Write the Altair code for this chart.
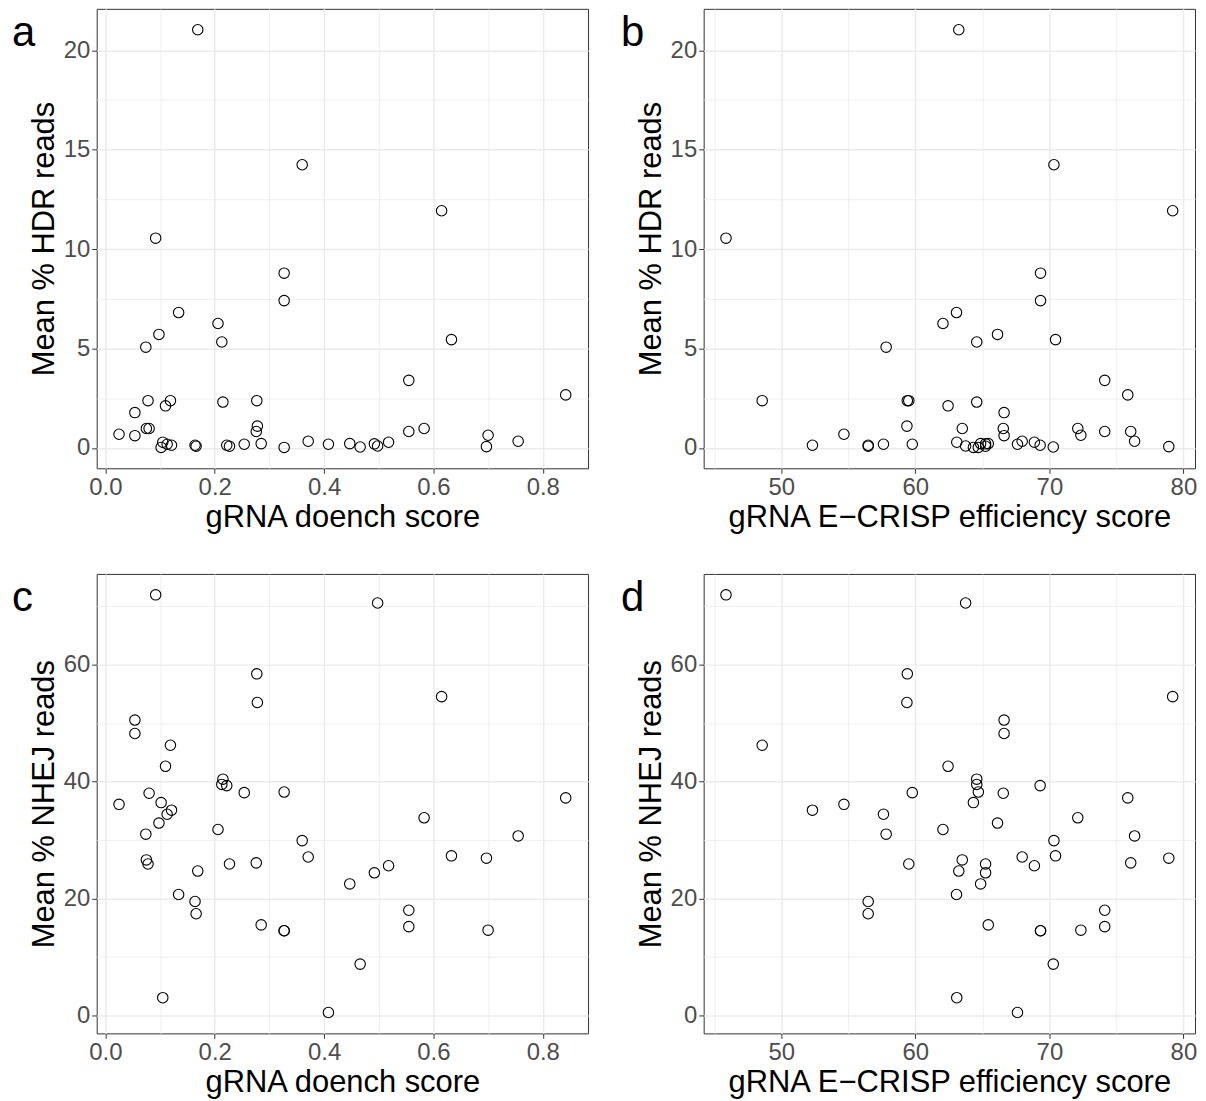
import altair as alt
import pandas as pd

# one row per gRNA
doench = [0.092, 0.498, 0.277, 0.278, 0.078, 0.615, 0.054, 0.054, 0.119, 0.110,
          0.215, 0.213, 0.327, 0.080, 0.254, 0.222, 0.842, 0.025, 0.102, 0.121,
          0.113, 0.583, 0.098, 0.206, 0.074, 0.755, 0.360, 0.371, 0.633, 0.697,
          0.075, 0.169, 0.276, 0.227, 0.518, 0.492, 0.447, 0.134, 0.164, 0.166,
          0.555, 0.555, 0.285, 0.327, 0.327, 0.700, 0.466, 0.105, 0.408]
ecrisp = [45.87, 63.75, 59.40, 59.37, 59.51, 79.20, 66.62, 66.62, 48.57, 62.44,
          64.58, 64.58, 64.70, 66.56, 59.77, 69.31, 75.85, 54.67, 64.33, 52.32,
          57.62, 72.12, 66.13, 62.06, 57.82, 76.36, 70.34, 67.97, 70.46, 78.91,
          63.50, 63.24, 76.07, 65.24, 68.88, 65.24, 64.87, 63.07, 56.48, 56.48,
          74.13, 74.13, 65.44, 69.34, 69.34, 72.35, 70.29, 63.09, 67.62]
hdr = [10.55, 0.10, 2.38, 1.10, 2.38, 11.93, 1.78, 0.62, 2.38, 2.12,
       2.31, 5.33, 0.03, 0.98, 0.19, 0.14, 2.67, 0.69, 0.03, 0.14,
       0.19, 0.98, 5.71, 6.26, 5.07, 0.34, 14.24, 0.34, 5.45, 0.07,
       0.98, 21.03, 0.83, 0.09, 0.29, 0.21, 0.22, 6.81, 0.14, 0.09,
       3.40, 0.83, 0.22, 8.79, 7.41, 0.64, 0.05, 0.29, 0.19]
nhej = [71.9, 70.5, 58.4, 53.5, 25.9, 54.5, 50.5, 48.2, 46.2, 42.6,
        40.4, 39.5, 38.2, 38.0, 38.1, 39.3, 37.2, 36.1, 36.4, 35.1,
        34.4, 33.8, 32.9, 31.8, 31.0, 30.7, 29.9, 27.1, 27.3, 26.9,
        26.6, 24.7, 26.1, 25.9, 25.6, 24.4, 22.5, 20.7, 19.5, 17.4,
        18.0, 15.2, 15.5, 14.5, 14.5, 14.6, 8.8, 3.06, 0.53]

doench_ticks = [0, 0.1, 0.2, 0.3, 0.4, 0.5, 0.6, 0.7, 0.8]
ecrisp_ticks = [45, 50, 55, 60, 65, 70, 75, 80]
hdr_ticks = [0, 2.5, 5, 7.5, 10, 12.5, 15, 17.5, 20]
nhej_ticks = [0, 10, 20, 30, 40, 50, 60, 70]

df = pd.DataFrame({"doench": doench, "ecrisp": ecrisp, "hdr": hdr, "nhej": nhej})

FONT = "Liberation Sans"
W, H = 493, 461


def expand(vals, f=0.05):
    lo, hi = min(vals), max(vals)
    r = hi - lo
    return [lo - f * r, hi + f * r]


def axis(vals, test, fmt, title):
    return alt.Axis(
        values=vals,
        title=title,
        labelExpr=f"({test}) ? format(datum.value, '{fmt}') : ''",
        tickOpacity={"condition": {"test": test, "value": 1}, "value": 0},
        gridWidth={"condition": {"test": test, "value": 1.5}, "value": 0.8},
    )


def panel(xcol, ycol, xvals, xtest, xfmt, xtitle, yvals, ytest, yfmt, ytitle, letter, lx):
    pts = alt.Chart(df).mark_point(
        shape="circle", filled=False, color="black", size=110, strokeWidth=1.1, opacity=1
    ).encode(
        x=alt.X(f"{xcol}:Q", scale=alt.Scale(domain=expand(df[xcol]), nice=False, zero=False),
                axis=axis(xvals, xtest, xfmt, xtitle)),
        y=alt.Y(f"{ycol}:Q", scale=alt.Scale(domain=expand(df[ycol]), nice=False, zero=False),
                axis=axis(yvals, ytest, yfmt, ytitle)),
    )
    lab = alt.Chart(pd.DataFrame({"t": [letter]})).mark_text(
        font=FONT, fontSize=42, color="black", align="left", baseline="alphabetic"
    ).encode(text="t:N", x=alt.value(lx), y=alt.value(37))
    return alt.layer(pts, lab).properties(width=W, height=H)


dtest = "round(datum.value*10) % 2 == 0"
etest = "datum.value % 10 == 0"
htest = "datum.value % 5 == 0"
ntest = "datum.value % 20 == 0"

a = panel("doench", "hdr", doench_ticks, dtest, ".1f", "gRNA doench score",
          hdr_ticks, htest, "d", "Mean % HDR reads", "a", -85)
b = panel("ecrisp", "hdr", ecrisp_ticks, etest, "d", "gRNA E\u2212CRISP efficiency score",
          hdr_ticks, htest, "d", "Mean % HDR reads", "b", -83)
c = panel("doench", "nhej", doench_ticks, dtest, ".1f", "gRNA doench score",
          nhej_ticks, ntest, "d", "Mean % NHEJ reads", "c", -85)
d = panel("ecrisp", "nhej", ecrisp_ticks, etest, "d", "gRNA E\u2212CRISP efficiency score",
          nhej_ticks, ntest, "d", "Mean % NHEJ reads", "d", -83)

chart = alt.vconcat(
    alt.hconcat(a, b, spacing=31),
    alt.hconcat(c, d, spacing=31),
    spacing=40,
).properties(
    padding={"left": 3, "top": -2, "right": 0, "bottom": 0}
).configure_view(
    stroke="#333333", strokeWidth=1
).configure_axis(
    labelFont=FONT, labelFontSize=24, labelColor="#4D4D4D", labelPadding=2,
    labelFlush=False, labelOverlap=False,
    titleFont=FONT, titleFontSize=31, titleColor="black", titleFontWeight="normal",
    titlePadding=3,
    tickColor="#333333", tickSize=5, tickWidth=1,
    domain=False, gridColor="#EBEBEB",
)

chart.save("out.html", embed_options={"renderer": "svg", "actions": False})
